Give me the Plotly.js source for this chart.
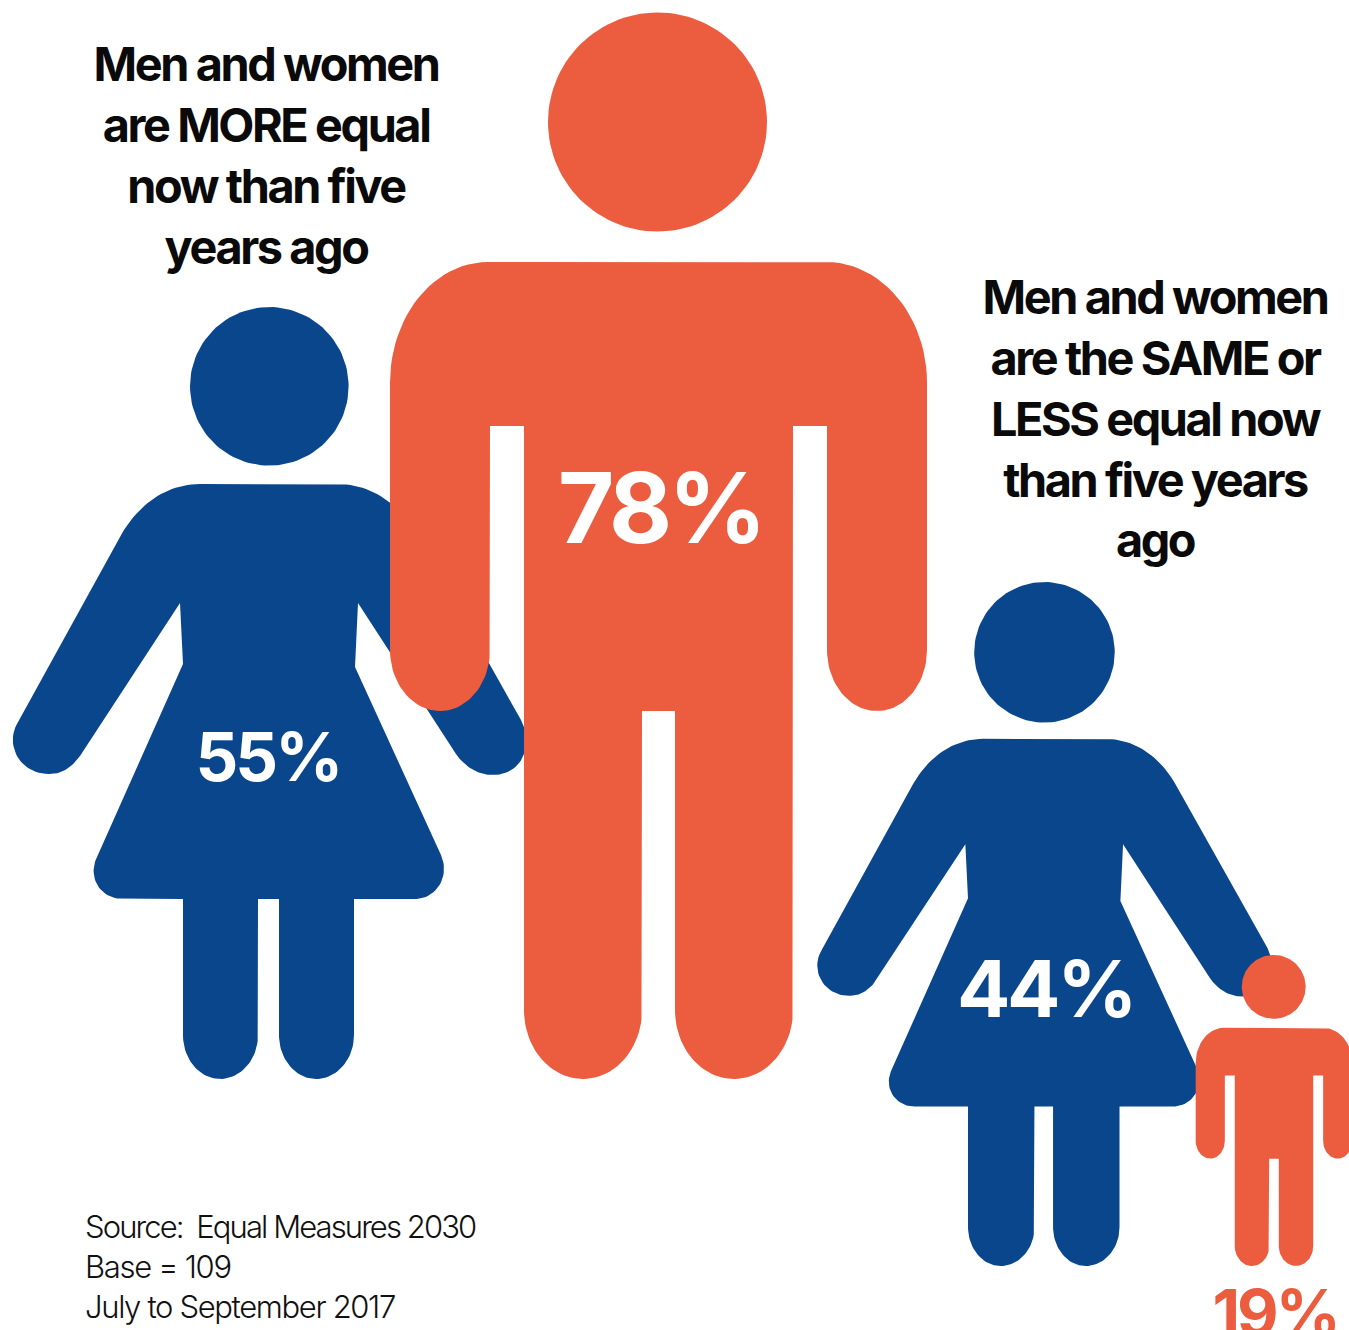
<!DOCTYPE html>
<html>
<head>
<meta charset="utf-8">
<script src="https://cdn.plot.ly/plotly-3.0.1.min.js"></script>
<style>
html,body{margin:0;padding:0;background:#fff;overflow:hidden}
#chart{width:1349px;height:1330px}
.annotation[data-index="0"] text,.annotation[data-index="1"] text{letter-spacing:-2.4px !important}
.annotation[data-index="2"] text{letter-spacing:-4px !important}
.annotation[data-index="3"] text{letter-spacing:-3px !important}
.annotation[data-index="4"] text{letter-spacing:-3.4px !important}
.annotation[data-index="5"] text{letter-spacing:-3px !important}
.annotation[data-index="6"] text{letter-spacing:-1.9px !important}
.annotation[data-index="7"] text{letter-spacing:-1.3px !important}
.annotation[data-index="8"] text{letter-spacing:-1.35px !important}
</style>
</head>
<body>
<div id="chart"></div>
<script>
// ---- data ----
const groups = ["more-men", "more-women", "same-women", "same-men"];
const percentValues = [78, 55, 44, 19];
const percentLabels = percentValues.map(v => v + "%");
const headingMore = "Men and women<br>are MORE equal<br>now than five<br>years ago";
const headingSame = "Men and women<br>are the SAME or<br>LESS equal now<br>than five years<br>ago";
const sourceLines = ["Source:\u00A0 Equal Measures 2030", "Base = 109", "July to September 2017"];

// ---- styles ----
const ORANGE = "#EC5C3F";
const BLUE = "#0A468C";
const FONT = "Inter, 'Noto Sans', sans-serif";

// ---- pictogram outlines (reference units, drawn via the x/y axes) ----
const k = 0.5523;
function corner(x0, y0, x1, y1, firstVertical) {
  // quarter ellipse from (x0,y0) to (x1,y1)
  return firstVertical
    ? ["C", x0, y0 + (y1 - y0) * k, x1 - (x1 - x0) * k, y1, x1, y1]
    : ["C", x0 + (x1 - x0) * k, y0, x1, y1 - (y1 - y0) * k, x1, y1];
}
const manOutline = [
  ["M", 488, 262], ["L", 826, 262],
  corner(826, 262, 927, 383, false),
  ["L", 927, 650],
  corner(927, 650, 877, 711, true), corner(877, 711, 827, 650, false),
  ["L", 827, 426], ["L", 793, 426], ["L", 793, 1010],
  corner(793, 1010, 734, 1079, true), corner(734, 1079, 675, 1010, false),
  ["L", 675, 711], ["L", 642, 711], ["L", 642, 1010],
  corner(642, 1010, 583, 1079, true), corner(583, 1079, 524, 1010, false),
  ["L", 524, 426], ["L", 490, 426], ["L", 490, 650],
  corner(490, 650, 440, 711, true), corner(440, 711, 390, 650, false),
  ["L", 390, 383],
  corner(390, 383, 488, 262, true)
];
const manHead = {cx: 657.5, cy: 122, r: 109.5};
const womanOutline = [
  ["M", 200, 484], ["L", 338, 484],
  ["C", 372, 484, 400, 505, 417, 535],
  ["L", 521, 720],
  ["C", 535, 748, 520, 775, 493, 775],
  ["C", 478, 775, 465, 767, 456, 754],
  ["L", 358, 603], ["L", 355, 667], ["L", 441, 855],
  ["C", 450, 875, 438, 899, 414, 899],
  ["L", 354, 899], ["L", 354, 1035],
  corner(354, 1035, 316, 1079, true), corner(316, 1079, 279, 1035, false),
  ["L", 279, 899], ["L", 258, 899], ["L", 258, 1035],
  corner(258, 1035, 220, 1079, true), corner(220, 1079, 183, 1035, false),
  ["L", 183, 899], ["L", 123, 899],
  ["C", 100, 899, 87, 877, 97, 857],
  ["L", 183, 664], ["L", 180, 603],
  ["L", 80, 756],
  ["C", 71, 768, 62, 774, 49, 774],
  ["C", 20, 774, 4, 745, 18, 722],
  ["L", 121, 535],
  ["C", 138, 505, 166, 484, 200, 484]
];
const womanHead = {cx: 269.3, cy: 386.3, r: 79.3};

function sample(path) {
  const xs = [], ys = [];
  let px = 0, py = 0;
  path.forEach(s => {
    if (s[0] === "M" || s[0] === "L") { px = s[1]; py = s[2]; xs.push(px); ys.push(py); }
    else {
      for (let i = 1; i <= 24; i++) {
        const t = i / 24, u = 1 - t;
        xs.push(u*u*u*px + 3*u*u*t*s[1] + 3*u*t*t*s[3] + t*t*t*s[5]);
        ys.push(u*u*u*py + 3*u*u*t*s[2] + 3*u*t*t*s[4] + t*t*t*s[6]);
      }
      px = s[5]; py = s[6];
    }
  });
  xs.push(xs[0]); ys.push(ys[0]);
  return {xs, ys};
}
function circle(h) {
  const xs = [], ys = [];
  for (let i = 0; i <= 120; i++) {
    const a = i / 120 * 2 * Math.PI;
    xs.push(h.cx + h.r * Math.cos(a));
    ys.push(h.cy + h.r * Math.sin(a));
  }
  return {xs, ys};
}
function figure(name, outline, head, color, scale, refX, refY, toX, toY) {
  const mk = (g, part) => ({
    type: "scatter", mode: "lines", fill: "toself", fillcolor: color,
    line: {width: 0, color: color}, hoverinfo: "skip", showlegend: false,
    name: name + " " + part,
    x: g.xs.map(x => toX + (x - refX) * scale),
    y: g.ys.map(y => toY + (y - refY) * scale)
  });
  return [mk(sample(outline), "body"), mk(circle(head), "head")];
}

const traces = [].concat(
  figure(groups[1], womanOutline, womanHead, BLUE, 1, 269, 1079, 269, 1079),
  figure(groups[0], manOutline, manHead, ORANGE, 1, 657.5, 1079, 657.5, 1079),
  figure(groups[2], womanOutline, womanHead, BLUE, 0.886, 269, 1079, 1044.2, 1266),
  figure(groups[3], manOutline, manHead, ORANGE, 0.2917, 657.5, 1079, 1273.7, 1266)
);

function note(text, x, y, size, weight, color, xanchor, align) {
  return {
    text, x, y, xref: "x", yref: "y", showarrow: false,
    xanchor: xanchor, yanchor: "middle", align: align,
    font: {family: FONT, size: size, weight: weight, color: color}
  };
}
const annotations = [
  note(headingMore, 266, 155, 46.8, 700, "#0A0A0A", "center", "center"),
  note(headingSame, 1155, 418, 46.8, 700, "#0A0A0A", "center", "center"),
  note(percentLabels[0], 660, 507, 97, 700, "#FFFFFF", "center", "center"),
  note(percentLabels[1], 268, 756, 67, 700, "#FFFFFF", "center", "center"),
  note(percentLabels[2], 1045, 988, 79, 700, "#FFFFFF", "center", "center"),
  note(percentLabels[3], 1275, 1312, 64, 700, ORANGE, "center", "center"),
  note(sourceLines[0], 83, 1226.5, 31, 300, "#111111", "left", "left"),
  note(sourceLines[1], 83, 1266.5, 31, 300, "#111111", "left", "left"),
  note(sourceLines[2], 83, 1306.5, 31, 300, "#111111", "left", "left")
];

const layout = {
  width: 1349, height: 1330,
  margin: {l: 0, r: 0, t: 0, b: 0, pad: 0},
  paper_bgcolor: "#FFFFFF", plot_bgcolor: "#FFFFFF",
  showlegend: false,
  xaxis: {range: [0, 1349], visible: false, fixedrange: true},
  yaxis: {range: [1330, 0], visible: false, fixedrange: true},
  annotations: annotations
};
Plotly.newPlot("chart", traces, layout, {displayModeBar: false, staticPlot: true});
</script>
</body>
</html>
